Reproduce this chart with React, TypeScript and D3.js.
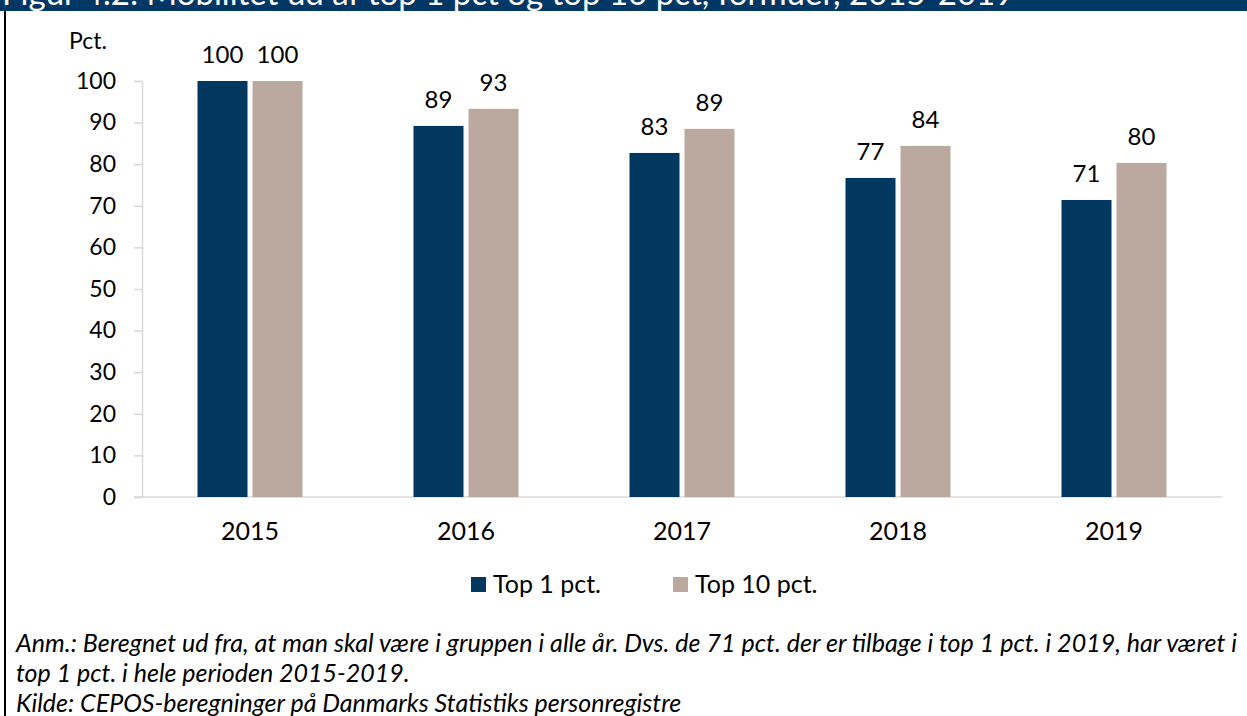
import React, { useEffect, useRef } from 'react'
import * as d3 from 'd3'

const years = ['2015', '2016', '2017', '2018', '2019']
const seriesNames = ['Top 1 pct.', 'Top 10 pct.']
const top1 = [100, 89.2, 82.7, 76.7, 71.4]
const top10 = [100, 93.3, 88.5, 84.4, 80.3]
const yTicks = [0, 10, 20, 30, 40, 50, 60, 70, 80, 90, 100]
const colors = ['#02375f', '#bba99f']
const titleText = 'Figur 4.2: Mobilitet ud af top 1 pct og top 10 pct, formuer, 2015-2019'
const noteLines = [
    'Anm.: Beregnet ud fra, at man skal være i gruppen i alle år. Dvs. de 71 pct. der er tilbage i top 1 pct. i 2019, har været i',
    'top 1 pct. i hele perioden 2015-2019.',
    'Kilde: CEPOS-beregninger på Danmarks Statistiks personregistre',
]

const width = 1247
const height = 716
const font = 'Lato, "Open Sans", sans-serif'

function App() {
    const yAxisRef = useRef(null)

    const x = d3.scaleBand().domain(years).range([142, 1222]).padding(0)
    const inner = d3.scaleBand().domain(seriesNames).range([0, 105]).paddingInner(5 / 55)
    const y = d3.scaleLinear().domain([0, 100]).range([497, 81])

    const data = years.map((year, i) => ({ year, values: [top1[i], top10[i]] }))

    useEffect(() => {
        const g = d3.select(yAxisRef.current)
        g.selectAll('*').remove()
        g.call(d3.axisLeft(y).tickValues(yTicks).tickSize(8).tickPadding(18))
        g.select('.domain').attr('stroke', '#d9d9d9').attr('stroke-width', 1.5)
        g.selectAll('.tick line').attr('stroke', '#d9d9d9').attr('stroke-width', 1.5)
        g.selectAll('.tick text')
            .attr('fill', '#000')
            .style('font-family', font)
            .style('font-size', '23px')
    }, [])

    return (
        <svg width={width} height={height} style={{ position: 'absolute', left: 0, top: 0, background: '#fff' }}>
            <rect x={0} y={0} width={width} height={11} fill="#003764" />
            <text x={2} y={5} fill="#fff" fontFamily={font} fontSize={33}>{titleText}</text>
            <line x1={5} x2={5} y1={11} y2={height} stroke="#000" strokeWidth={2} />

            <text x={88} y={49} textAnchor="middle" fontFamily={font} fontSize={23} fill="#000">Pct.</text>

            <g ref={yAxisRef} transform="translate(142,0)" />
            <line x1={134} x2={1222} y1={y(0)} y2={y(0)} stroke="#d9d9d9" strokeWidth={1.5} />

            {data.map(d => (
                <g key={d.year} transform={`translate(${x(d.year)! + x.bandwidth() / 2 - 52.5},0)`}>
                    {d.values.map((v, j) => (
                        <g key={j}>
                            <rect
                                x={inner(seriesNames[j])}
                                y={y(v)}
                                width={inner.bandwidth()}
                                height={y(0) - y(v)}
                                fill={colors[j]}
                            />
                            <text
                                x={inner(seriesNames[j])! + inner.bandwidth() / 2}
                                y={y(v) - 18}
                                textAnchor="middle"
                                fontFamily={font}
                                fontSize={24}
                                fill="#000"
                            >
                                {Math.round(v)}
                            </text>
                        </g>
                    ))}
                </g>
            ))}

            {years.map(year => (
                <text key={year} x={x(year)! + x.bandwidth() / 2} y={540} textAnchor="middle"
                    fontFamily={font} fontSize={25} fill="#000">{year}</text>
            ))}

            <g transform="translate(471,577)">
                <rect x={0} y={0} width={15} height={15} fill={colors[0]} />
                <text x={22} y={16} fontFamily={font} fontSize={25} fill="#000">{seriesNames[0]}</text>
                <rect x={202} y={0} width={15} height={15} fill={colors[1]} />
                <text x={224} y={16} fontFamily={font} fontSize={25} fill="#000">{seriesNames[1]}</text>
            </g>

            {noteLines.map((line, i) => (
                <text key={i} x={16} y={652 + i * 30} fontFamily={font} fontStyle="italic"
                    fontSize={25} textLength={i === 0 ? 1221 : undefined} fill="#000">{line}</text>
            ))}
        </svg>
    )
}

export default App
